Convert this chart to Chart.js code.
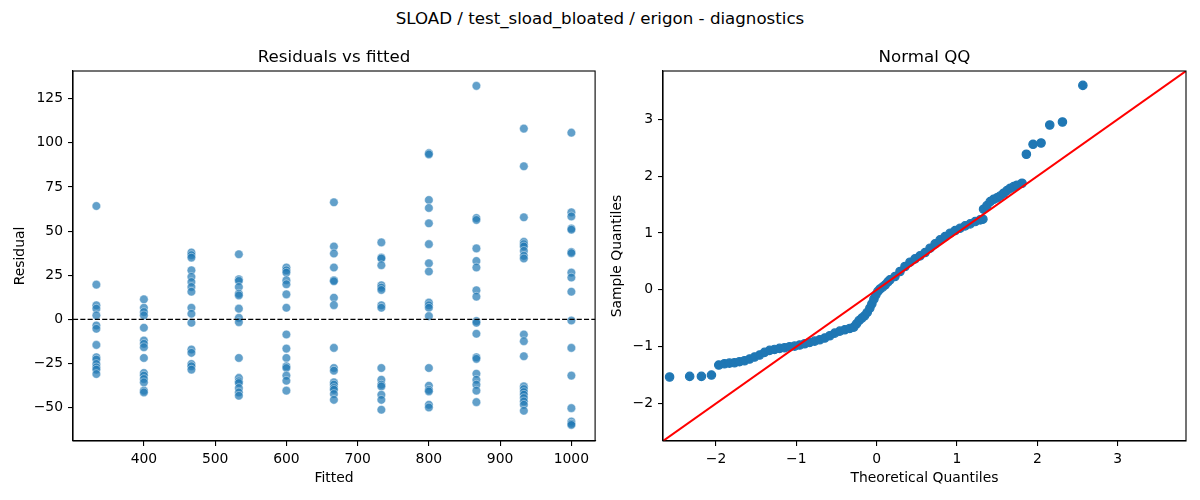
<!DOCTYPE html>
<html><head><meta charset="utf-8">
<script src="https://cdn.jsdelivr.net/npm/chart.js@4"></script>
<style>
body{margin:0;background:#fff;width:1200px;height:500px;overflow:hidden;position:relative;font-family:'DejaVu Sans';}
#sup{position:absolute;left:0;top:9px;width:1200px;text-align:center;font-size:16.67px;line-height:20px;color:#000;}
canvas{position:absolute;top:0;}
</style></head><body>
<div id="sup">SLOAD / test_sload_bloated / erigon - diagnostics</div>
<canvas id="c1" width="600" height="500" style="left:0"></canvas>
<canvas id="c2" width="600" height="500" style="left:600px"></canvas>
<script>
// ---- Residuals vs fitted ----
const fitted = [333.3, 400, 466.7, 533.3, 600, 666.7, 733.3, 800, 866.7, 933.3, 1000];
const res333 = [64.2, 19.7, 8.0, 6.1, 2.3, -3.4, -5.3, -14.4, -21.4, -22.7, -25.2, -27.1, -28.4, -30.9];
const res400 = [11.4, 6.6, 4.2, 2.3, -4.7, -11.9, -13.8, -15.7, -21.8, -30.3, -31.8, -33.7, -35.6, -40.3, -41.3];
const res467 = [37.9, 36.4, 35.0, 27.8, 24.1, 21.2, 18.4, 15.7, 6.6, 3.2, -1.9, -17.0, -18.9, -25.2, -26.5, -28.4];
const res533 = [36.9, 22.7, 21.8, 18.4, 14.6, 13.6, 6.1, 0.9, -1.5, -21.8, -33.1, -35.0, -36.0, -38.8, -41.3, -43.2];
const res600 = [29.4, 27.8, 26.5, 22.2, 19.9, 14.2, 6.6, -8.5, -16.5, -21.8, -26.5, -27.5, -31.8, -34.7, -40.3];
const res667 = [66.3, 41.3, 37.3, 29.4, 22.2, 21.6, 12.3, 8.1, -16.1, -27.5, -29.0, -35.6, -36.9, -38.8, -39.8, -42.2, -45.5];
const res733 = [43.6, 35.0, 34.5, 30.7, 19.3, 18.0, 16.7, 8.0, 6.6, -27.5, -34.1, -36.9, -37.9, -42.6, -45.5, -51.1];
const res800 = [94.1, 93.4, 67.6, 63.1, 54.4, 42.6, 31.8, 27.1, 9.5, 8.0, 6.6, 1.9, -27.5, -37.5, -39.8, -40.7, -48.3, -49.8];
const res867 = [132.2, 57.4, 56.3, 40.2, 33.1, 29.4, 16.5, 12.9, -0.9, -1.9, -8.1, -21.4, -22.3, -30.7, -34.1, -36.9, -40.3, -46.8];
const res933 = [108.0, 86.7, 57.8, 43.9, 42.6, 41.3, 38.8, 36.0, 34.5, -8.5, -12.3, -20.8, -37.9, -39.4, -41.1, -42.6, -44.5, -46.4, -48.3, -51.7];
const res1000 = [105.7, 60.6, 58.3, 51.5, 50.8, 38.2, 37.5, 26.5, 23.7, 15.7, -0.6, -16.1, -31.8, -50.2, -57.8, -59.0, -59.7];
const residualColumns = [res333, res400, res467, res533, res600, res667, res733, res800, res867, res933, res1000];
const fittedLim = [300.5, 1033.3];
const residLim = [-68.8, 140.6];

// ---- Normal QQ ----
const qqTheoretical = [-2.578, -2.328, -2.182, -2.057,
 -1.966, -1.895, -1.833, -1.770, -1.708, -1.645, -1.583, -1.521, -1.458, -1.396, -1.333, -1.271, -1.209, -1.146, -1.084, -1.021,
 -0.959, -0.896, -0.834, -0.772, -0.709, -0.647, -0.584, -0.522, -0.459, -0.397, -0.335, -0.285, -0.251, -0.218, -0.185, -0.151,
 -0.118, -0.085, -0.060, -0.035, -0.010, 0.015, 0.040, 0.073, 0.107, 0.140, 0.165,
 0.227, 0.290, 0.352, 0.414, 0.477, 0.539, 0.602, 0.664, 0.727, 0.789, 0.851, 0.914, 0.976, 1.039, 1.101, 1.164, 1.226, 1.288, 1.322,
 1.330, 1.372, 1.413, 1.455, 1.497, 1.538, 1.580, 1.621, 1.663, 1.705, 1.746, 1.809,
 1.863, 1.946, 2.046, 2.154, 2.312, 2.566];
const qqSample = [-1.534, -1.523, -1.523, -1.500,
 -1.324, -1.301, -1.289, -1.283, -1.265, -1.248, -1.218, -1.183, -1.148, -1.101, -1.066, -1.049, -1.031, -1.019, -1.002, -0.990,
 -0.972, -0.949, -0.926, -0.902, -0.879, -0.849, -0.808, -0.762, -0.726, -0.703, -0.680, -0.656, -0.598, -0.539, -0.498, -0.457,
 -0.398, -0.322, -0.246, -0.164, -0.088, -0.029, 0.012, 0.047, 0.088, 0.141, 0.176,
 0.234, 0.322, 0.410, 0.486, 0.545, 0.598, 0.656, 0.732, 0.808, 0.879, 0.937, 0.996, 1.043, 1.084, 1.125, 1.160, 1.201, 1.230, 1.242,
 1.418, 1.482, 1.552, 1.593, 1.617, 1.652, 1.699, 1.746, 1.787, 1.816, 1.840, 1.875,
 2.385, 2.560, 2.583, 2.900, 2.953, 3.597];
const qqLim = [-2.66, 3.85];

Chart.defaults.font.family = "'DejaVu Sans', sans-serif";
Chart.defaults.font.size = 13.9;
Chart.defaults.color = '#000';
Chart.defaults.animation = false;

const fmt = v => (v < 0 ? '\u2212' + Math.abs(v) : String(v));

const framePlugin = {
  id: 'frame',
  afterDraw(chart) {
    const {ctx, chartArea: a} = chart;
    ctx.save();
    ctx.strokeStyle = '#000';
    ctx.lineWidth = 1.1;
    ctx.strokeRect(a.left, a.top, a.right - a.left, a.bottom - a.top);
    ctx.restore();
  }
};
const zeroLinePlugin = {
  id: 'zeroLine',
  afterDatasetsDraw(chart) {
    const {ctx, chartArea: a, scales} = chart;
    const y = scales.y.getPixelForValue(0);
    ctx.save();
    ctx.strokeStyle = '#000';
    ctx.lineWidth = 1.2;
    ctx.setLineDash([5.1, 2.2]);
    ctx.beginPath();
    ctx.moveTo(a.left, y);
    ctx.lineTo(a.right, y);
    ctx.stroke();
    ctx.restore();
  }
};

function axisCfg(min, max, step, titleText, isX, fitSize, titlePad) {
  return {
    type: 'linear', min, max,
    ticks: {stepSize: step, includeBounds: false, padding: 5, color: '#000', callback: v => fmt(v), maxRotation: 0, autoSkip: false},
    grid: {drawOnChartArea: false, drawTicks: true, tickLength: 5, color: '#000', lineWidth: 1.1},
    border: {display: true, color: '#000', width: 1.1},
    title: {display: true, text: titleText, color: '#000', font: {size: 13.9}, padding: isX ? {top: 0, bottom: titlePad} : {top: titlePad, bottom: 0}},
    afterFit: s => { if (isX) s.height = fitSize; else s.width = fitSize; }
  };
}
function titleCfg(text) {
  return {display: true, text, color: '#000', fullSize: false, font: {size: 16.67, weight: 'normal'}, padding: {top: 48, bottom: 3}};
}

const scatterPts = [];
fitted.forEach((f, i) => residualColumns[i].forEach(r => scatterPts.push({x: f, y: r})));

new Chart(document.getElementById('c1'), {
  type: 'scatter',
  data: {datasets: [{
    data: scatterPts,
    backgroundColor: 'rgba(31,119,180,0.7)',
    borderColor: 'rgba(255,255,255,0.7)',
    borderWidth: 0.6,
    pointRadius: 4.3,
    pointHoverRadius: 4.3
  }]},
  options: {
    responsive: false,
    layout: {padding: {left: 0, right: 1, top: 0, bottom: 0}},
    plugins: {legend: {display: false}, tooltip: {enabled: false}, title: titleCfg('Residuals vs fitted')},
    scales: {
      x: axisCfg(fittedLim[0], fittedLim[1], 100, 'Fitted', true, 59, 13.6),
      y: axisCfg(residLim[0], residLim[1], 25, 'Residual', false, 73, 12.5)
    }
  },
  plugins: [framePlugin, zeroLinePlugin]
});

const qqPts = qqTheoretical.map((x, i) => ({x, y: qqSample[i]}));
const qqLinePts = [{x: qqLim[0], y: qqLim[0]}, {x: qqLim[1], y: qqLim[1]}];

new Chart(document.getElementById('c2'), {
  type: 'scatter',
  data: {datasets: [
    {type: 'line', data: qqLinePts, showLine: true, borderColor: '#ff0000', borderWidth: 2, pointRadius: 0, fill: false, order: 0},
    {data: qqPts, backgroundColor: '#1f77b4', borderColor: '#1f77b4', borderWidth: 1.2, pointRadius: 4.2, pointHoverRadius: 4.2, order: 1}
  ]},
  options: {
    responsive: false,
    layout: {padding: {left: 0, right: 14, top: 0, bottom: 0}},
    plugins: {legend: {display: false}, tooltip: {enabled: false}, title: titleCfg('Normal QQ')},
    scales: {
      x: axisCfg(qqLim[0], qqLim[1], 1, 'Theoretical Quantiles', true, 59, 13.6),
      y: axisCfg(qqLim[0], qqLim[1], 1, 'Sample Quantiles', false, 63, 8.7)
    }
  },
  plugins: [framePlugin]
});
</script>
</body></html>
